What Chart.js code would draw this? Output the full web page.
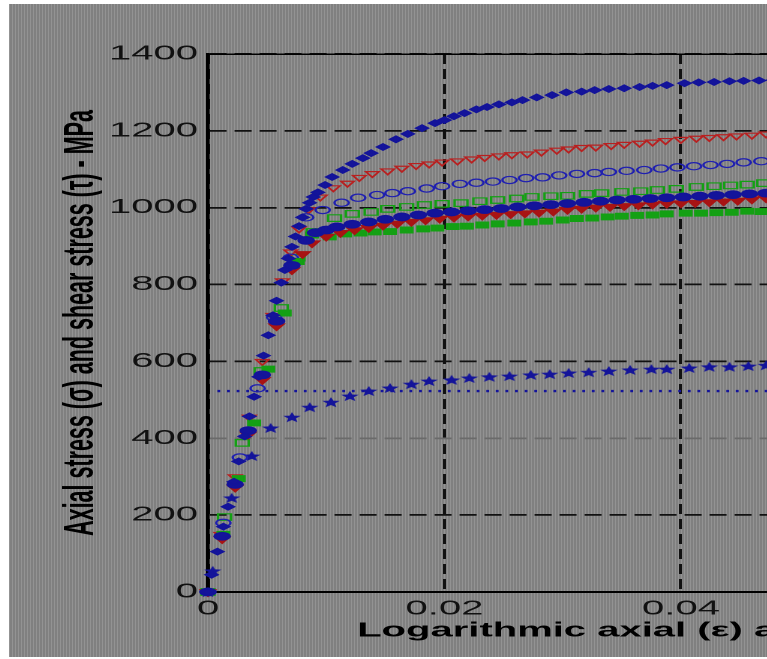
<!DOCTYPE html>
<html>
<head>
<meta charset="utf-8">
<script src="https://cdn.jsdelivr.net/npm/chart.js@4.4.1/dist/chart.umd.min.js"></script>
<style>
  html, body { margin: 0; padding: 0; background: #fff; overflow: hidden; width: 767px; height: 659px; }
  /* the source figure is stretched about 2x sideways, so the chart is drawn narrow and scaled */
  #wrap {
    position: absolute; left: 9px; top: 4px; width: 640px; height: 653px;
    transform: scaleX(2); transform-origin: 0 0;
    background: repeating-linear-gradient(90deg, #939393 0px, #939393 0.75px, #808080 0.75px, #808080 1.5px);
  }
</style>
</head>
<body>
<div id="wrap"><canvas id="c"></canvas></div>
<script>
// axial stress, blue filled diamonds (top curve)
const strainA = [0, 0.0003, 0.0008, 0.0013, 0.0017, 0.0022, 0.0026, 0.0031, 0.0035, 0.0039, 0.0043, 0.0047, 0.0051, 0.0055, 0.0058, 0.0062, 0.0065, 0.0068, 0.0071, 0.0074, 0.0077, 0.0080, 0.0083, 0.0086, 0.0089, 0.0093, 0.0099, 0.0105, 0.0114, 0.0122, 0.0131, 0.0138, 0.0148, 0.0159, 0.0169, 0.0181, 0.0192, 0.0200, 0.0208, 0.0217, 0.0227, 0.0236, 0.0246, 0.0257, 0.0266, 0.0278, 0.0291, 0.0303, 0.0316, 0.0327, 0.0339, 0.0352, 0.0365, 0.0376, 0.0388, 0.0403, 0.0415, 0.0428, 0.0441, 0.0453, 0.0466, 0.0478];
const stressA = [0, 45, 105, 170, 222, 287, 340, 405, 457, 508, 560, 615, 668, 720, 758, 805, 838, 868, 898, 925, 952, 975, 997, 1013, 1028, 1040, 1059, 1080, 1098, 1114, 1129, 1142, 1158, 1178, 1192, 1207, 1220, 1228, 1238, 1246, 1256, 1262, 1269, 1274, 1280, 1287, 1293, 1300, 1302, 1306, 1309, 1311, 1314, 1317, 1319, 1324, 1326, 1327, 1329, 1330, 1331, 1332];

// red open triangles
const strainB = [0, 0.0011, 0.0023, 0.0035, 0.0046, 0.0055, 0.0063, 0.0070, 0.0077, 0.0085, 0.0095, 0.0106, 0.0118, 0.0128, 0.0139, 0.0152, 0.0164, 0.0176, 0.0187, 0.0198, 0.0211, 0.0223, 0.0234, 0.0246, 0.0257, 0.0270, 0.0282, 0.0295, 0.0305, 0.0316, 0.0328, 0.0341, 0.0352, 0.0365, 0.0376, 0.0387, 0.0400, 0.0413, 0.0424, 0.0436, 0.0447, 0.0460, 0.0472];
const stressB = [0, 150, 300, 455, 600, 720, 810, 885, 945, 995, 1028, 1052, 1064, 1079, 1089, 1096, 1103, 1110, 1114, 1119, 1122, 1127, 1131, 1135, 1138, 1140, 1145, 1150, 1153, 1157, 1158, 1162, 1165, 1168, 1171, 1175, 1178, 1181, 1183, 1185, 1187, 1189, 1192];

// blue open circles
const strainC = [0, 0.0013, 0.0027, 0.0042, 0.0056, 0.0070, 0.0083, 0.0097, 0.0113, 0.0127, 0.0143, 0.0156, 0.0169, 0.0185, 0.0198, 0.0213, 0.0227, 0.0241, 0.0255, 0.0269, 0.0283, 0.0297, 0.0312, 0.0327, 0.0339, 0.0354, 0.0369, 0.0383, 0.0397, 0.0411, 0.0425, 0.0439, 0.0453, 0.0468];
const stressC = [0, 180, 350, 530, 715, 870, 975, 994, 1013, 1026, 1033, 1038, 1043, 1050, 1056, 1062, 1065, 1068, 1072, 1077, 1079, 1084, 1088, 1090, 1093, 1096, 1098, 1102, 1105, 1108, 1111, 1114, 1118, 1121];

// green open squares
const strainD = [0, 0.0014, 0.0029, 0.0045, 0.0062, 0.0076, 0.0089, 0.0107, 0.0122, 0.0138, 0.0152, 0.0168, 0.0183, 0.0198, 0.0214, 0.0230, 0.0245, 0.0261, 0.0274, 0.0290, 0.0304, 0.0320, 0.0333, 0.0350, 0.0366, 0.0380, 0.0396, 0.0413, 0.0428, 0.0442, 0.0456, 0.0470];
const stressD = [0, 195, 388, 575, 739, 870, 937, 973, 984, 989, 997, 1002, 1007, 1010, 1012, 1017, 1020, 1024, 1028, 1030, 1031, 1036, 1038, 1041, 1043, 1046, 1049, 1054, 1056, 1058, 1060, 1064];

// blue filled circles
const strainE = [0, 0.0012, 0.0023, 0.0034, 0.0046, 0.0058, 0.0071, 0.0083, 0.0091, 0.0100, 0.0109, 0.0122, 0.0136, 0.0150, 0.0164, 0.0178, 0.0192, 0.0206, 0.0220, 0.0234, 0.0248, 0.0262, 0.0276, 0.0290, 0.0304, 0.0318, 0.0332, 0.0346, 0.0360, 0.0374, 0.0388, 0.0402, 0.0416, 0.0430, 0.0444, 0.0458, 0.0472];
const stressE = [0, 145, 280, 420, 565, 705, 850, 915, 935, 942, 950, 957, 963, 970, 976, 981, 986, 989, 992, 995, 998, 1002, 1005, 1008, 1011, 1014, 1017, 1020, 1022, 1024, 1026, 1028, 1030, 1032, 1034, 1036, 1038];

// red filled triangles
const strainF = [0, 0.0012, 0.0023, 0.0034, 0.0046, 0.0058, 0.0071, 0.0080, 0.0088, 0.0100, 0.0112, 0.0124, 0.0136, 0.0148, 0.0160, 0.0172, 0.0184, 0.0196, 0.0208, 0.0220, 0.0232, 0.0244, 0.0256, 0.0268, 0.0280, 0.0292, 0.0304, 0.0316, 0.0328, 0.0340, 0.0352, 0.0364, 0.0376, 0.0388, 0.0400, 0.0412, 0.0424, 0.0436, 0.0448, 0.0460, 0.0472];
const stressF = [0, 138, 272, 410, 552, 692, 838, 880, 908, 925, 935, 942, 948, 954, 959, 964, 968, 972, 975, 978, 980, 982, 984, 986, 988, 991, 995, 998, 1001, 1003, 1005, 1007, 1009, 1011, 1012, 1013, 1015, 1017, 1019, 1022, 1025];

// green filled squares
const strainG = [0, 0.0013, 0.0026, 0.0039, 0.0051, 0.0065, 0.0076, 0.0088, 0.0103, 0.0116, 0.0129, 0.0141, 0.0154, 0.0168, 0.0182, 0.0194, 0.0207, 0.0219, 0.0232, 0.0245, 0.0259, 0.0273, 0.0286, 0.0300, 0.0312, 0.0325, 0.0338, 0.0350, 0.0363, 0.0376, 0.0388, 0.0404, 0.0417, 0.0430, 0.0443, 0.0456, 0.0468];
const stressG = [0, 150, 295, 440, 580, 726, 860, 929, 924, 932, 934, 937, 938, 942, 945, 947, 951, 952, 955, 958, 960, 963, 965, 968, 972, 973, 976, 978, 980, 981, 984, 986, 986, 987, 988, 991, 990];

// shear stress, blue stars
const strainH = [0, 0.0004, 0.0020, 0.0037, 0.0053, 0.0071, 0.0086, 0.0104, 0.0120, 0.0136, 0.0154, 0.0172, 0.0187, 0.0206, 0.0221, 0.0238, 0.0255, 0.0273, 0.0289, 0.0305, 0.0322, 0.0339, 0.0357, 0.0375, 0.0388, 0.0407, 0.0424, 0.0441, 0.0457, 0.0472];
const stressH = [0, 55, 245, 354, 427, 455, 481, 494, 510, 523, 531, 541, 549, 552, 557, 560, 562, 565, 567, 570, 572, 575, 578, 580, 580, 583, 586, 586, 588, 590];

// dotted reference level
const strainLine = [0.0008, 0.09];
const stressLine = [523, 523];

const yTicks = [0, 200, 400, 600, 800, 1000, 1200, 1400];
const xTicks = [0, 0.02, 0.04, 0.06, 0.08];

const xTitle = 'Logarithmic axial (\u03b5) and shear (\u03b3) strain';
const yTitle = 'Axial stress (\u03c3) and shear stress (\u03c4) - MPa';

const blue = '#14149a';
const red = '#a81414';
const green = '#14a014';
const fontFamily = '"Liberation Sans", Arial, Helvetica, sans-serif';

const toPoints = (xs, ys) => xs.map((x, i) => ({ x: x, y: ys[i] }));

function starImage(color) {
  const c = document.createElement('canvas');
  c.width = 24; c.height = 24;
  const g = c.getContext('2d');
  g.translate(12, 13);
  g.scale(2.0, 2.4);
  g.beginPath();
  for (let i = 0; i < 10; i++) {
    const r = i % 2 ? 2.0 : 4.6;
    const a = -Math.PI / 2 + i * Math.PI / 5;
    g.lineTo(r * Math.cos(a), r * Math.sin(a));
  }
  g.closePath();
  g.fillStyle = color;
  g.fill();
  const img = new Image();
  img.width = 12; img.height = 12;
  img.src = c.toDataURL();
  return img;
}

const star = starImage(blue);

function build() {
  const ctx = document.getElementById('c').getContext('2d');
  new Chart(ctx, {
    type: 'scatter',
    data: {
      datasets: [
        { data: toPoints(strainA, stressA), pointStyle: 'rectRot', pointRadius: 3.3,
          backgroundColor: blue, borderColor: blue, borderWidth: 1 },
        { data: toPoints(strainE, stressE), pointStyle: 'circle', pointRadius: 3.9,
          backgroundColor: blue, borderColor: blue, borderWidth: 1 },
        { data: toPoints(strainF, stressF), pointStyle: 'triangle', pointRotation: 180, pointRadius: 4.4,
          backgroundColor: red, borderColor: red, borderWidth: 1 },
        { data: toPoints(strainG, stressG), pointStyle: 'rect', pointRadius: 4.2,
          backgroundColor: green, borderColor: green, borderWidth: 1 },
        { data: toPoints(strainC, stressC), pointStyle: 'circle', pointRadius: 3.6,
          backgroundColor: 'rgba(0,0,0,0)', borderColor: '#2020b0', borderWidth: 1.2 },
        { data: toPoints(strainB, stressB), pointStyle: 'triangle', pointRotation: 180, pointRadius: 3.8,
          backgroundColor: 'rgba(0,0,0,0)', borderColor: '#b82020', borderWidth: 1.2 },
        { data: toPoints(strainD, stressD), pointStyle: 'rect', pointRadius: 4.6,
          backgroundColor: 'rgba(0,0,0,0)', borderColor: green, borderWidth: 1.2 },
        { data: toPoints(strainH, stressH), pointStyle: star, pointRadius: 6 },
        { type: 'line', data: toPoints(strainLine, stressLine), showLine: true, pointRadius: 0,
          borderColor: blue, borderWidth: 2.4, borderDash: [1.4, 3.4] }
      ]
    },
    options: {
      animation: false,
      responsive: true,
      maintainAspectRatio: false,
      devicePixelRatio: 2,
      events: [],
      clip: false,
      layout: { padding: { top: 50, right: 8.4, bottom: 0, left: 0 } },
      plugins: { legend: { display: false }, tooltip: { enabled: false } },
      scales: {
        x: {
          type: 'linear', position: 'bottom', min: 0, max: 0.09,
          afterBuildTicks: s => { s.ticks = xTicks.map(v => ({ value: v })); },
          afterFit: s => { s.height = 65; },
          ticks: {
            color: '#111', padding: 5, maxRotation: 0, autoSkip: false,
            font: { family: fontFamily, size: 20 },
            callback: v => String(v)
          },
          grid: { color: '#111', lineWidth: 1.5, drawTicks: false },
          border: { color: '#000', width: 2, dash: [10, 5] },
          title: {
            display: true, text: xTitle, color: '#000',
            font: { family: fontFamily, size: 20, weight: 'bold' },
            padding: { top: 0, bottom: 14 }
          }
        },
        x2: {
          type: 'linear', position: 'top', min: 0, max: 0.09,
          afterFit: s => { s.height = 0; },
          ticks: { display: false },
          grid: { display: false },
          border: { color: '#000', width: 1.5 }
        },
        y: {
          min: 0, max: 1400,
          afterBuildTicks: s => { s.ticks = yTicks.map(v => ({ value: v })); },
          afterFit: s => { s.width = 99.5; },
          ticks: {
            color: '#111', padding: 5,
            font: { family: fontFamily, size: 20 },
            callback: v => String(v)
          },
          grid: {
            color: c => (c.tick && c.tick.value === 400 ? '#6a6a6a' : '#111'),
            lineWidth: 1.8, drawTicks: false
          },
          border: { color: '#000', width: 1.8, dash: [8.5, 4] },
          title: {
            display: true, text: yTitle, color: '#000',
            font: { family: fontFamily, size: 21.5, weight: 'bold' },
            padding: { top: 23, bottom: 0 }
          }
        }
      }
    }
  });
}

if (star.complete) build(); else star.onload = build;
</script>
</body>
</html>
